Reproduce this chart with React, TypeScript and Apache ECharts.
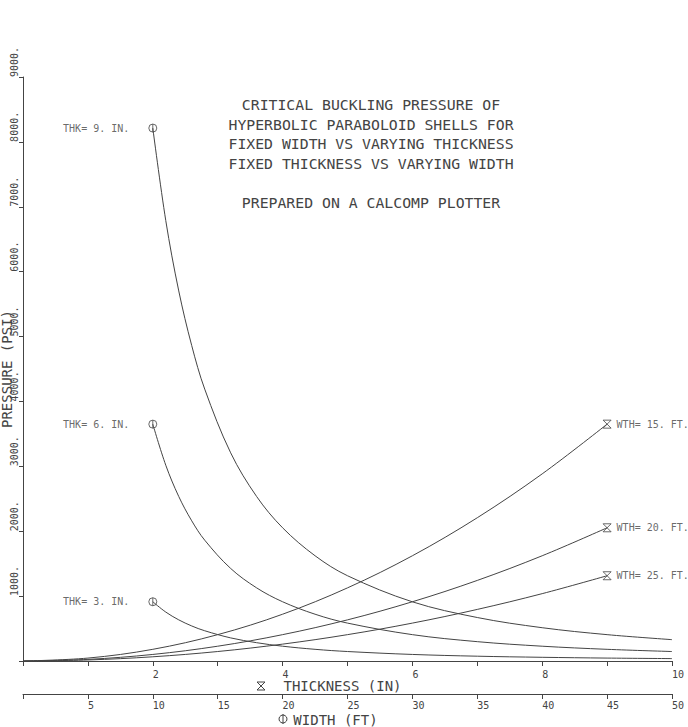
import React, { useEffect, useRef } from "react";
import * as echarts from "echarts";

// Thickness (in) vs pressure for fixed widths
const thicknessPts = [0, 1, 2, 3, 4, 5, 6, 7, 8, 9];
const wth15 = [0, 45, 180, 406, 721, 1127, 1622, 2208, 2884, 3650];
const wth20 = [0, 25, 101, 228, 406, 634, 913, 1242, 1622, 2053];
const wth25 = [0, 16, 65, 146, 260, 406, 584, 795, 1038, 1314];
const wthLabels = ["WTH= 15. FT.", "WTH= 20. FT.", "WTH= 25. FT."];

// Width (ft) vs pressure for fixed thicknesses
const widthPts = [10, 11, 12, 13, 14, 16, 18, 20, 22.5, 25, 30, 35, 40, 45, 50];
const thk9 = [8213, 6787, 5703, 4860, 4190, 3208, 2535, 2053, 1622, 1314, 912, 670, 513, 406, 329];
const thk6 = [3650, 3017, 2535, 2160, 1862, 1426, 1127, 913, 721, 584, 406, 298, 228, 180, 146];
const thk3 = [913, 754, 634, 540, 466, 356, 282, 228, 180, 146, 101, 74, 57, 45, 37];
const thkLabels = ["THK= 9. IN.", "THK= 6. IN.", "THK= 3. IN."];

const titleLines = [
  "CRITICAL BUCKLING PRESSURE OF",
  "HYPERBOLIC PARABOLOID SHELLS FOR",
  "FIXED WIDTH VS VARYING THICKNESS",
  "FIXED THICKNESS VS VARYING WIDTH",
  "",
  "PREPARED ON A CALCOMP PLOTTER",
];

const FONT = "DejaVu Sans Mono";
const INK = "#444";
const LINE = "#444";
const HOURGLASS = "path://M0,0 L10,0 L0,10 L10,10 Z";
const CIRCLE_BAR = "path://M0,5 A5,5 0 1 1 10,5 A5,5 0 1 1 0,5 Z M5,0 L5,10";

export default function App() {
  const ref = useRef<HTMLDivElement>(null);
  useEffect(() => {
    if (!ref.current) return;
    const chart = echarts.init(ref.current, null, { renderer: "svg" });

    const zip = (xs: number[], ys: number[]) => xs.map((x, i) => [x, ys[i]]);
    const lineSeries = (data: number[][], axis: number) => ({
      type: "line",
      xAxisIndex: axis,
      yAxisIndex: 0,
      data,
      smooth: 0.35,
      symbol: "none",
      color: LINE,
      lineStyle: { color: LINE, width: 1 },
      silent: true,
    });

    const labelStyle = { fontFamily: FONT, fontSize: 10, color: INK };
    const markLabel = {
      ...labelStyle,
      textBorderWidth: 0,
      textShadowBlur: 0,
      rich: { t: { fontFamily: FONT, fontSize: 10, color: INK } },
    };

    const thkSeries = [thk9, thk6, thk3];
    const wthSeries = [wth15, wth20, wth25];
    const last = thicknessPts.length - 1;

    const option: any = {
      animation: false,
      backgroundColor: "#fff",
      color: [INK],
      title: {
        text: titleLines.join("\n"),
        left: 366,
        top: 90,
        textAlign: "center",
        textStyle: {
          fontFamily: FONT,
          fontSize: 14.8,
          fontWeight: "normal",
          color: INK,
          lineHeight: 19.5,
        },
      },
      grid: { left: 23, right: 16, top: 77, bottom: 66, containLabel: false, outerBoundsMode: "none" },
      xAxis: [
        {
          type: "value",
          min: 0,
          max: 10,
          interval: 1,
          position: "bottom",
          axisLine: { show: true, lineStyle: { color: INK, width: 1 } },
          axisTick: { show: true, length: 5, lineStyle: { color: INK } },
          axisLabel: {
            ...labelStyle,
            align: "left",
            margin: 8,
            formatter: (v: number) => (v !== 0 && v % 2 === 0 ? String(v) : ""),
          },
          splitLine: { show: false },
          name: "THICKNESS (IN)",
          nameLocation: "middle",
          nameGap: 18,
          nameMoveOverlap: false,
          nameTextStyle: { fontFamily: FONT, fontSize: 14, color: INK, padding: [0, 10, 0, 0] },
        },
        {
          type: "value",
          min: 0,
          max: 50,
          interval: 5,
          position: "bottom",
          offset: 33,
          axisLine: { show: true, lineStyle: { color: INK, width: 1 } },
          axisTick: { show: true, length: 5, lineStyle: { color: INK } },
          axisLabel: {
            ...labelStyle,
            align: "left",
            margin: 6,
            formatter: (v: number) => (v === 0 ? "" : String(v)),
          },
          splitLine: { show: false },
          name: "WIDTH (FT)",
          nameLocation: "middle",
          nameGap: 19,
          nameMoveOverlap: false,
          nameTextStyle: { fontFamily: FONT, fontSize: 14, color: INK, padding: [0, 24, 0, 0] },
        },
      ],
      yAxis: {
        type: "value",
        min: 0,
        max: 9000,
        interval: 1000,
        axisLine: { show: true, lineStyle: { color: INK, width: 1 } },
        axisTick: { show: true, length: 4, lineStyle: { color: INK } },
        axisLabel: {
          ...labelStyle,
          rotate: 90,
          align: "left",
          verticalAlign: "bottom",
          margin: 4,
          formatter: (v: number) => (v === 0 ? "" : v + "."),
        },
        splitLine: { show: false },
        name: "PRESSURE (PSI)",
        nameLocation: "middle",
        nameGap: 9,
        nameMoveOverlap: false,
        nameTextStyle: { fontFamily: FONT, fontSize: 14, color: INK },
      },
      series: [
        ...thkSeries.map((ys) => lineSeries(zip(widthPts, ys), 1)),
        ...wthSeries.map((ys) => lineSeries(zip(thicknessPts, ys), 0)),
        {
          type: "scatter",
          xAxisIndex: 1,
          yAxisIndex: 0,
          color: INK,
          symbol: CIRCLE_BAR,
          symbolSize: 8,
          itemStyle: { color: "transparent", borderColor: INK, borderWidth: 1 },
          label: {
            show: true,
            position: "left",
            distance: 19,
            ...markLabel,
            formatter: (p: any) => "{t|" + thkLabels[p.dataIndex] + "}",
          },
          data: thkSeries.map((ys) => [widthPts[0], ys[0]]),
        },
        {
          type: "scatter",
          xAxisIndex: 0,
          yAxisIndex: 0,
          color: INK,
          symbol: HOURGLASS,
          symbolSize: 8,
          itemStyle: { color: "transparent", borderColor: INK, borderWidth: 1 },
          label: {
            show: true,
            position: "right",
            distance: 5,
            ...markLabel,
            formatter: (p: any) => "{t|" + wthLabels[p.dataIndex] + "}",
          },
          data: wthSeries.map((ys) => [thicknessPts[last], ys[last]]),
        },
      ],
      graphic: [
        {
          type: "polyline",
          shape: { points: [[257, 682], [265, 682], [257, 690], [265, 690], [257, 682]] },
          style: { stroke: INK, fill: "none", lineWidth: 1 },
        },
        {
          type: "circle",
          shape: { cx: 283, cy: 719, r: 4 },
          style: { stroke: INK, fill: "none", lineWidth: 1 },
        },
        {
          type: "line",
          shape: { x1: 283, y1: 714, x2: 283, y2: 724 },
          style: { stroke: INK, lineWidth: 1 },
        },
      ],
    };

    chart.setOption(option);
    return () => chart.dispose();
  }, []);

  return <div ref={ref} style={{ width: 688, height: 727, position: "absolute", left: 0, top: 0 }} />;
}
